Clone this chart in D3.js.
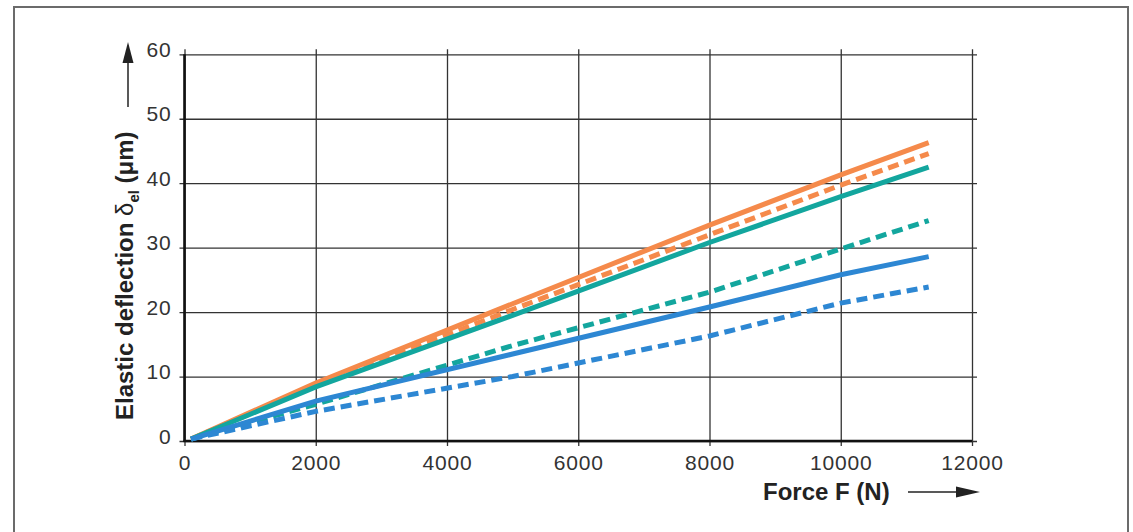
<!DOCTYPE html>
<html>
<head>
<meta charset="utf-8">
<script src="https://cdn.jsdelivr.net/npm/d3@7"></script>
<style>
  body { margin: 0; background: #fff; }
  text { font-family: "Liberation Sans", Arial, sans-serif; }
</style>
</head>
<body>
<div id="chart"></div>
<script>
// force values (N) where each curve was read
var forces = [100, 2000, 5000, 8000, 10000, 11340];

// elastic deflection (um) per curve
var orangeSolid  = [0.3, 9.0, 21.3, 33.5, 41.3, 46.3];
var orangeDashed = [0.3, 8.6, 20.4, 32.0, 39.7, 44.6];
var tealSolid    = [0.3, 8.4, 19.5, 30.8, 37.9, 42.5];
var tealDashed   = [0.3, 5.7, 14.8, 23.1, 29.8, 34.2];
var blueSolid    = [0.3, 6.2, 13.5, 20.8, 25.8, 28.6];
var blueDashed   = [0.3, 4.6, 10.0, 16.3, 21.4, 23.9];

var xTicks = [0, 2000, 4000, 6000, 8000, 10000, 12000];
var yTicks = [0, 10, 20, 30, 40, 50, 60];

var series = [
    { values: orangeSolid,  color: "#f58a4b", dashed: false },
    { values: orangeDashed, color: "#f58a4b", dashed: true },
    { values: tealSolid,    color: "#13a69e", dashed: false },
    { values: tealDashed,   color: "#13a69e", dashed: true },
    { values: blueSolid,    color: "#2d87d3", dashed: false },
    { values: blueDashed,   color: "#2d87d3", dashed: true }
];

var width = 1133, height = 532;
var x0 = 184.5, x1 = 972, y0 = 441, y1 = 54.3;
var w = x1 - x0, h = y0 - y1;

var x = d3.scaleLinear().domain([0, 12000]).range([x0, x1]);
var y = d3.scaleLinear().domain([0, 60]).range([y0, y1]);

var svg = d3.select("#chart").append("svg")
    .attr("width", width)
    .attr("height", height);

// outer frame
svg.append("rect")
    .attr("x", 14).attr("y", 7)
    .attr("width", 1114).attr("height", 540)
    .attr("fill", "none")
    .attr("stroke", "#6b6b6b")
    .attr("stroke-width", 2);

// grid + ticks
var yAxis = d3.axisLeft(y).tickValues(yTicks).tickSize(-(w + 10)).tickPadding(8);
var gy = svg.append("g")
    .attr("transform", "translate(" + (x0 - 5) + ",0)")
    .call(yAxis);

var xAxis = d3.axisBottom(x).tickValues(xTicks).tickSize(-(h + 10)).tickPadding(8)
    .tickFormat(d3.format("d"));
var gx = svg.append("g")
    .attr("transform", "translate(0," + (y0 + 5) + ")")
    .call(xAxis);

[gx, gy].forEach(function (g) {
    g.select(".domain").remove();
    g.selectAll(".tick line").attr("stroke", "#333").attr("stroke-width", 1.3);
    g.selectAll(".tick text")
        .attr("fill", "#333")
        .style("font-size", "21px")
        .style("letter-spacing", "0.8px");
});
gy.selectAll(".tick text").attr("dy", "0.1em");
gx.selectAll(".tick text").attr("dy", "0.75em");

// main axis lines
svg.append("line")
    .attr("x1", x0).attr("x2", x0).attr("y1", y0 + 1).attr("y2", y1)
    .attr("stroke", "#111").attr("stroke-width", 2.6);
svg.append("line")
    .attr("x1", x0 - 1).attr("x2", x1).attr("y1", y0).attr("y2", y0)
    .attr("stroke", "#111").attr("stroke-width", 2.6);

// curves
var line = d3.line()
    .x(function (d, i) { return x(forces[i]); })
    .y(function (d) { return y(d); });

svg.selectAll(".curve")
    .data(series)
    .enter().append("path")
    .attr("class", "curve")
    .attr("d", function (d) { return line(d.values); })
    .attr("fill", "none")
    .attr("stroke", function (d) { return d.color; })
    .attr("stroke-width", 5)
    .attr("stroke-dasharray", function (d) { return d.dashed ? "11,6" : null; });

// y title with arrow
var yt = svg.append("text")
    .attr("transform", "translate(133,420) rotate(-90)")
    .attr("fill", "#222")
    .style("font-size", "24px")
    .style("font-weight", "bold");
yt.append("tspan").text("Elastic deflection ");
yt.append("tspan").style("font-weight", "normal").text("δ");
yt.append("tspan").attr("dy", 6).style("font-size", "15px").text("el");
yt.append("tspan").attr("dy", -6).text(" (μm)");

svg.append("line")
    .attr("x1", 128).attr("x2", 128).attr("y1", 107).attr("y2", 60)
    .attr("stroke", "#222").attr("stroke-width", 1.5);
svg.append("path")
    .attr("d", "M128,42 L122.5,63 L133.5,63 Z")
    .attr("fill", "#222");

// x title with arrow
svg.append("text")
    .attr("x", 763).attr("y", 500)
    .attr("fill", "#222")
    .style("font-size", "24px")
    .style("font-weight", "bold")
    .text("Force F (N)");

svg.append("line")
    .attr("x1", 908).attr("x2", 960).attr("y1", 492).attr("y2", 492)
    .attr("stroke", "#222").attr("stroke-width", 1.5);
svg.append("path")
    .attr("d", "M980,492 L956,486.5 L956,497.5 Z")
    .attr("fill", "#222");
</script>
</body>
</html>
